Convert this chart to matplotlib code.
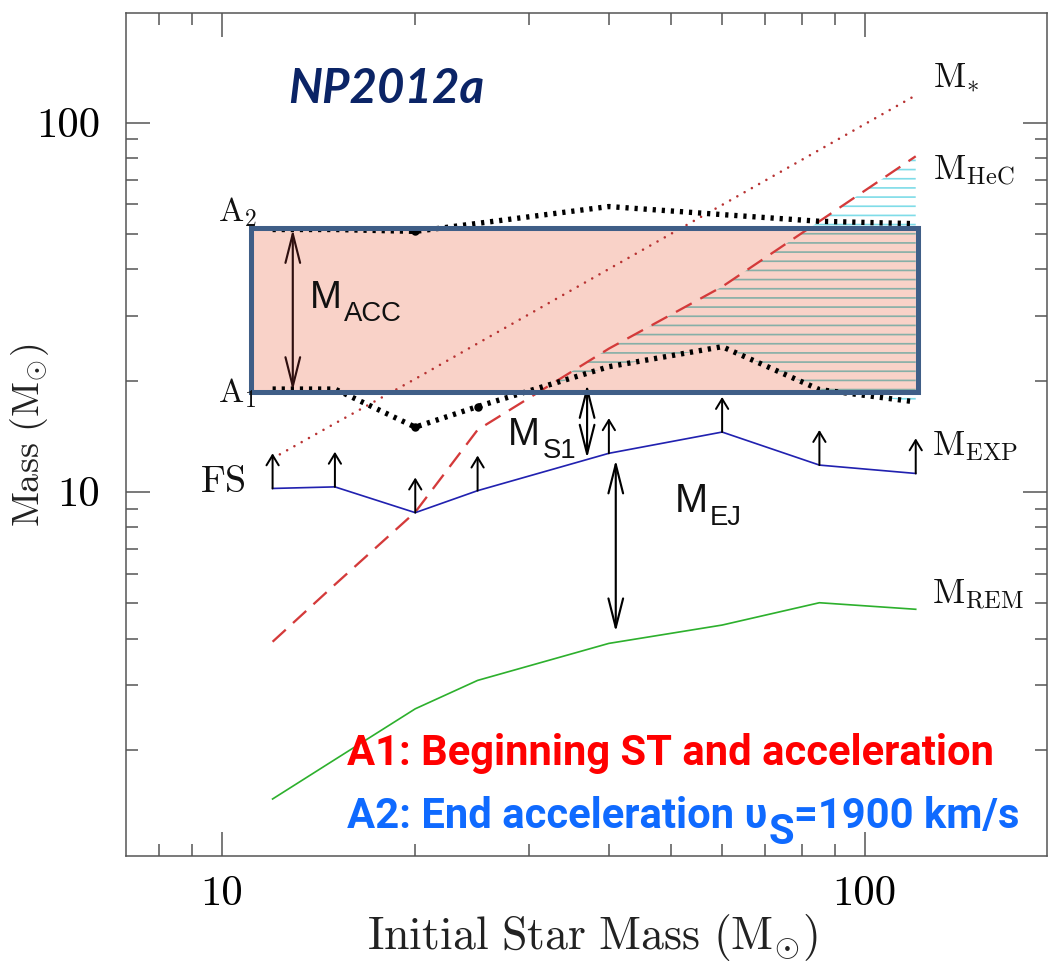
import matplotlib
matplotlib.use("Agg")
import matplotlib.pyplot as plt
from matplotlib.patches import Rectangle, FancyArrowPatch
from matplotlib.ticker import LogLocator, NullFormatter

# ---- data -------------------------------------------------------------
masses = [12, 15, 20, 25, 40, 60, 85, 120]          # initial star mass (Msun)
m_star = [12.3, 15.3, 20.2, 25.2, 40.1, 59.8, 84.3, 118.5]
m_hec = [3.92, 5.6, 8.8, 14.7, 24.4, 35.9, 54.0, 81.0]
m_exp = [10.2, 10.3, 8.77, 10.06, 12.7, 14.5, 11.8, 11.2]
m_rem = [1.47, 1.88, 2.58, 3.08, 3.88, 4.35, 5.0, 4.8]
a1_mass = [18.96, 18.96, 14.95, 17.0, 21.8, 24.7, 18.9, 17.5]
a2_mass = [51.3, 51.3, 50.7, 53.3, 59.2, 56.3, 54.0, 53.2]
a1_marked = [20, 25]
a2_marked = [20]

acc_box_mass = [11.1, 121.0]
acc_box_range = [18.6, 51.8]

macc_mass, macc_range = 12.9, [18.6, 51.8]
ms1_mass, ms1_range = 37.0, [12.2, 19.7]
mej_mass, mej_range = 41.0, [4.13, 12.3]

x_limits = [7.1, 192]
y_limits = [1.03, 198]
x_ticks, x_ticklabels = [10, 100], ["10", "100"]
y_ticks, y_ticklabels = [10, 100], ["10", "100"]

# ---- figure -----------------------------------------------------------
DPI = 110
plt.rcParams["hatch.linewidth"] = 1.1
fig = plt.figure(figsize=(1049 / DPI, 962 / DPI), dpi=DPI)
ax = fig.add_axes([126 / 1049, 1 - 856 / 962, 921 / 1049, 843 / 962])
ax.set_xscale("log")
ax.set_yscale("log")
ax.set_xlim(*x_limits)
ax.set_ylim(*y_limits)

for sp in ax.spines.values():
    sp.set_color("#555555")
    sp.set_linewidth(1.0)

ax.set_xticks(x_ticks, x_ticklabels, fontfamily="cmr10", fontsize=28)
ax.set_yticks(y_ticks, y_ticklabels, fontfamily="cmr10", fontsize=28)
for axis in (ax.xaxis, ax.yaxis):
    axis.set_minor_locator(LogLocator(base=10, subs=range(2, 10)))
    axis.set_minor_formatter(NullFormatter())
ax.tick_params(which="both", direction="in", top=True, right=True,
               color="#555555", width=1.0)
ax.tick_params(which="major", length=16)
ax.tick_params(which="minor", length=8)
ax.tick_params(axis="x", which="major", pad=13)
ax.tick_params(axis="y", which="major", pad=17)

ax.set_xlabel(r"$\mathrm{Initial\ Star\ Mass\ (M}_{\odot}\mathrm{)}$", fontsize=30,
              math_fontfamily="cm", color="#222222")
ax.xaxis.set_label_coords(0.507, -0.066)
ax.set_ylabel(r"$\mathrm{Mass\ (M}_{\odot}\mathrm{)}$", fontsize=25,
              math_fontfamily="cm", color="#222222")
ax.yaxis.set_label_coords(-0.081, 0.4994)

# ---- acceleration box and He-core hatching ---------------------------
box_kw = dict(xy=(acc_box_mass[0], acc_box_range[0]),
              width=acc_box_mass[1] - acc_box_mass[0],
              height=acc_box_range[1] - acc_box_range[0])
ax.add_patch(Rectangle(**box_kw, facecolor="#F9D2C8", edgecolor="none", zorder=1))

hec_above = [h > a for h, a in zip(m_hec, a1_mass)]
ax.fill_between(masses, a1_mass, m_hec, where=hec_above, interpolate=True,
                facecolor="none", edgecolor="#7FDCE8", hatch="--",
                linewidth=0, zorder=0.9)
inner = ax.fill_between(masses, a1_mass, m_hec, where=hec_above, interpolate=True,
                        facecolor="none", edgecolor="#86AFA7", hatch="--",
                        linewidth=0, zorder=1.1)
clip_rect = Rectangle(**box_kw, transform=ax.transData)
inner.set_clip_path(clip_rect)

# ---- curves -----------------------------------------------------------
ax.plot(masses, m_star, color="#B83232", lw=1.7, linestyle=(0, (0.01, 3.2)),
        dash_capstyle="round", zorder=2)
ax.plot(masses, m_hec, color="#D43A3A", lw=1.5, linestyle=(0, (7.8, 4.3)),
        zorder=2)
ax.plot(masses, m_exp, color="#2121B0", lw=1.1, zorder=2.5)
ax.plot(masses, m_rem, color="#2DB02D", lw=1.1, zorder=2.5)

dot_style = dict(color="black", lw=3.5, linestyle=(0, (0.6, 1.1)),
                 dash_capstyle="butt", zorder=2.2)
ax.plot(masses, a1_mass, **dot_style)
ax.plot(masses, a2_mass, **dot_style)
ax.plot(a1_marked, [a1_mass[masses.index(m)] for m in a1_marked], "o",
        color="black", ms=4.5, zorder=2.3)
ax.plot(a2_marked, [a2_mass[masses.index(m)] for m in a2_marked], "o",
        color="black", ms=4.5, zorder=2.3)

# upward arrows from the explosion mass
for m, e in zip(masses, m_exp):
    ax.add_patch(FancyArrowPatch((m, e), (m, e * 1.245),
                                 arrowstyle="->,head_length=0.33,head_width=0.2",
                                 mutation_scale=20, lw=1.3, color="black",
                                 shrinkA=0, shrinkB=0, zorder=4))

# double-headed arrows
def double_arrow(x, lo, hi, color):
    ax.add_patch(FancyArrowPatch((x, lo), (x, hi),
                                 arrowstyle="<->,head_length=0.95,head_width=0.24",
                                 mutation_scale=20, lw=1.4, color=color,
                                 shrinkA=1, shrinkB=1, zorder=4))

double_arrow(macc_mass, macc_range[0], macc_range[1], "#2E0F0F")
double_arrow(ms1_mass, ms1_range[0], ms1_range[1], "black")
double_arrow(mej_mass, mej_range[0], mej_range[1], "black")

ax.add_patch(Rectangle(**box_kw, facecolor="none", edgecolor="#3F5E87",
                       lw=3.3, zorder=5))

# ---- labels -----------------------------------------------------------
def cm_label(x, y, s, size=23):
    ax.text(x, y, s, fontsize=size, math_fontfamily="cm", va="baseline",
            ha="left", color="#111111", zorder=6)

cm_label(9.86, 53.9, r"$\mathrm{A}_2$", size=22)
cm_label(9.86, 17.5, r"$\mathrm{A}_1$", size=22)
cm_label(9.24, 9.98, r"$\mathrm{FS}$", size=25)
cm_label(127.6, 125.2, r"$\mathrm{M}_{\ast}$")
cm_label(127.6, 70.0, r"$\mathrm{M}_{\mathrm{HeC}}$")
cm_label(127.1, 12.57, r"$\mathrm{M}_{\mathrm{EXP}}$")
cm_label(127.1, 4.99, r"$\mathrm{M}_{\mathrm{REM}}$")


def sans_label(x, y, main, sub, size=25, subsize=18, drop=7.3):
    t = ax.text(x, y, main, fontsize=size, family="Liberation Sans",
                va="baseline", color="#111111", zorder=6)
    ax.annotate(sub, xy=(1, 0), xycoords=t, xytext=(1.5, -drop),
                textcoords="offset points", fontsize=subsize,
                family="Liberation Sans", va="bottom", color="#111111",
                zorder=6)

sans_label(13.7, 31.5, "M", "ACC")
sans_label(27.9, 13.4, "M", "S1")
sans_label(50.6, 8.81, "M", "EJ", size=26)

ax.text(0.176, 0.893, "NP2012a", transform=ax.transAxes, fontsize=31,
        family="Lato", fontweight="bold", fontstyle="italic",
        color="#0B2466", va="baseline", zorder=6)

note_font = dict(family="Roboto", fontweight="bold", fontsize=27.3)
ax.text(0.24, 0.108, "A1: Beginning ST and acceleration",
        transform=ax.transAxes, color="#FF0000", va="baseline", zorder=6,
        **note_font)

blue = "#0F6AFF"
t1 = ax.text(0.24, 0.022, "A2: End acceleration \u03c5", transform=ax.transAxes,
             color=blue, va="bottom", zorder=6, **note_font)
t2 = ax.annotate("S", xy=(1, 0), xycoords=t1, xytext=(0.5, -10),
                 textcoords="offset points", color=blue, va="bottom",
                 zorder=6, **note_font)
ax.annotate("=1900 km/s", xy=(1, 0), xycoords=(t2, t1), xytext=(0, 0),
            textcoords="offset points", color=blue, va="bottom", zorder=6,
            **note_font)

fig.savefig("out.png", dpi=DPI)
